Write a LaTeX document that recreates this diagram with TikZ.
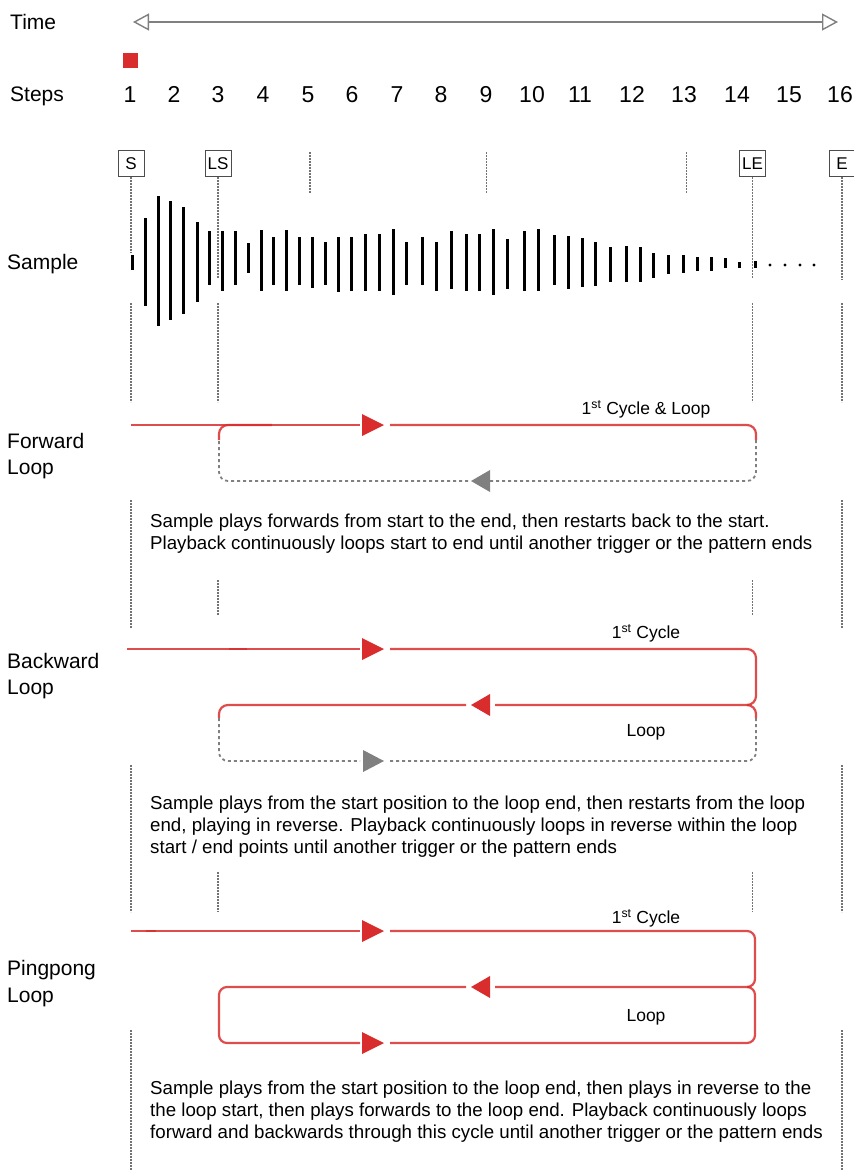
\documentclass[tikz,border=0pt]{standalone}
\usepackage{fontspec}
\setmainfont{Liberation Sans}
\usetikzlibrary{arrows.meta}
\definecolor{playred}{RGB}{217,45,45}
\definecolor{ghostgrey}{gray}{0.5}
\definecolor{markgrey}{gray}{0.45}
\definecolor{boxline}{gray}{0.3}
\tikzset{
  rowlab/.style={font=\fontsize{21}{25}\selectfont,anchor=base west,inner sep=0pt},
  stepnum/.style={font=\fontsize{23}{27}\selectfont,anchor=base,inner sep=0pt},
  markbox/.style={draw=boxline,line width=0.9pt,minimum width=26pt,minimum height=26pt,inner sep=0pt,font=\fontsize{17}{19}\selectfont},
  guide/.style={markgrey,line width=1.1pt,dash pattern=on 1.6pt off 1.4pt},
  wave/.style={line width=3pt,black},
  play/.style={playred,line width=2.2pt,draw opacity=0.85},
  ghost/.style={ghostgrey,line width=1.8pt,dash pattern=on 3pt off 3pt},
  phasecap/.style={font=\fontsize{17.5}{20}\selectfont,inner sep=0pt},
  note/.style={font=\fontsize{18.7}{21.9}\selectfont,anchor=north west,inner sep=0pt,align=left},
}

\begin{document}
\begin{tikzpicture}[x=1pt,y=1pt]
  \useasboundingbox (0,0) rectangle (854,-1171);
  % time line
  \node[rowlab] (lTime) at (10,-29.5) {Time};
  \coordinate (tA) at (133,-22);
  \coordinate (tB) at (838,-22);
  \draw[ghostgrey,line width=1.4pt,{Triangle[open,length=16pt,width=17pt,fill=white]}-{Triangle[open,length=16pt,width=17pt,fill=white]}] (tA) -- (tB);
  \node[fill=playred,minimum size=15pt,inner sep=0pt] (cursor) at (130.5,-60.5) {};
  % steps
  \node[rowlab] (lSteps) at (10,-101.5) {Steps};
  \node[stepnum] (st1) at (130,-102.5) {1};
  \node[stepnum] (st2) at (174,-102.5) {2};
  \node[stepnum] (st3) at (218,-102.5) {3};
  \node[stepnum] (st4) at (263,-102.5) {4};
  \node[stepnum] (st5) at (308,-102.5) {5};
  \node[stepnum] (st6) at (352,-102.5) {6};
  \node[stepnum] (st7) at (397,-102.5) {7};
  \node[stepnum] (st8) at (441,-102.5) {8};
  \node[stepnum] (st9) at (486,-102.5) {9};
  \node[stepnum] (st10) at (532,-102.5) {10};
  \node[stepnum] (st11) at (580,-102.5) {11};
  \node[stepnum] (st12) at (632,-102.5) {12};
  \node[stepnum] (st13) at (684,-102.5) {13};
  \node[stepnum] (st14) at (737,-102.5) {14};
  \node[stepnum] (st15) at (789,-102.5) {15};
  \node[stepnum] (st16) at (840,-102.5) {16};
  % sample markers
  \node[markbox] (mS) at (131,-163.5) {S};
  \node[markbox] (mLS) at (218,-163.5) {LS};
  \node[markbox] (mLE) at (752.5,-163.5) {LE};
  \node[markbox] (mE) at (842,-163.5) {E};
  \draw[guide] (mS.south) -- (131,-252);
  \draw[guide] (mLS.south) -- (218,-278);
  \draw[guide] (mLE.south) -- (752.5,-278);
  \draw[guide] (mE.south) -- (842,-280);
  \draw[guide] (310,-152) -- (310,-193);
  \draw[guide] (486.5,-152) -- (486.5,-193);
  \draw[guide] (686.5,-152) -- (686.5,-193);
  % waveform
  \node[rowlab] (lSample) at (7,-269.5) {Sample};
  \draw[wave] (132,-255) -- (132,-270);
  \draw[wave] (145,-218) -- (145,-306);
  \draw[wave] (158,-196) -- (158,-326);
  \draw[wave] (170,-201) -- (170,-320);
  \draw[wave] (183,-207) -- (183,-314);
  \draw[wave] (197,-222) -- (197,-302);
  \draw[wave] (209,-231) -- (209,-285);
  \draw[wave] (222,-231) -- (222,-291);
  \draw[wave] (235,-231) -- (235,-285);
  \draw[wave] (248,-243) -- (248,-273);
  \draw[wave] (261,-230) -- (261,-291);
  \draw[wave] (273,-237) -- (273,-285);
  \draw[wave] (286,-230) -- (286,-291);
  \draw[wave] (299,-237) -- (299,-285);
  \draw[wave] (312,-237) -- (312,-288);
  \draw[wave] (325,-242) -- (325,-285);
  \draw[wave] (338,-237) -- (338,-292);
  \draw[wave] (351,-237) -- (351,-291);
  \draw[wave] (365,-234) -- (365,-291);
  \draw[wave] (379,-234) -- (379,-291);
  \draw[wave] (393,-229) -- (393,-295);
  \draw[wave] (406,-242) -- (406,-285);
  \draw[wave] (422,-237) -- (422,-285);
  \draw[wave] (436,-242) -- (436,-291);
  \draw[wave] (451,-231) -- (451,-289);
  \draw[wave] (466,-234) -- (466,-291);
  \draw[wave] (479,-234) -- (479,-291);
  \draw[wave] (493,-229) -- (493,-295);
  \draw[wave] (507,-239) -- (507,-289);
  \draw[wave] (524,-231) -- (524,-291);
  \draw[wave] (538,-229) -- (538,-291);
  \draw[wave] (554,-235) -- (554,-285);
  \draw[wave] (568,-236) -- (568,-289);
  \draw[wave] (582,-238) -- (582,-287);
  \draw[wave] (595,-242) -- (595,-286);
  \draw[wave] (610,-247) -- (610,-282);
  \draw[wave] (626,-246) -- (626,-282);
  \draw[wave] (640,-247) -- (640,-282);
  \draw[wave] (653,-253) -- (653,-278);
  \draw[wave] (668,-255) -- (668,-274);
  \draw[wave] (683,-255) -- (683,-273);
  \draw[wave] (697,-257) -- (697,-271);
  \draw[wave] (711,-257) -- (711,-271);
  \draw[wave] (725,-258) -- (725,-268);
  \draw[wave] (739,-262) -- (739,-268);
  \draw[wave] (755,-261) -- (755,-268);
  \fill (770,-265) circle (1.6);
  \fill (785,-265) circle (1.6);
  \fill (800,-265) circle (1.6);
  \fill (814,-265) circle (1.6);
  % guides between the rows
  \draw[guide] (131,-303) -- (131,-402);
  \draw[guide] (218,-303) -- (218,-402);
  \draw[guide] (752.5,-303) -- (752.5,-402);
  \draw[guide] (842,-303) -- (842,-402);
  \draw[guide] (131,-500) -- (131,-628);
  \draw[guide] (842,-500) -- (842,-628);
  \draw[guide] (218,-580) -- (218,-615);
  \draw[guide] (752.5,-580) -- (752.5,-615);
  \draw[guide] (131,-765) -- (131,-912);
  \draw[guide] (842,-765) -- (842,-912);
  \draw[guide] (218,-872) -- (218,-912);
  \draw[guide] (752.5,-872) -- (752.5,-912);
  \draw[guide] (131,-1030) -- (131,-1171);
  \draw[guide] (842,-1030) -- (842,-1171);
  % forward loop
  \node[rowlab] (lFwd) at (7,-448.5) {Forward};
  \node[rowlab] (lFwdB) at (7,-474.5) {Loop};
  \node[phasecap] (cFwd) at (646,-409) {1\textsuperscript{st} Cycle \& Loop};
  \draw[play] (131,-425) -- (360,-425);
  \draw[play] (390,-425) -- (747,-425) arc (90:0:9) -- (756,-440);
  \draw[ghost] (756,-440) -- (756,-472) arc (0:-90:9) -- (490,-481);
  \draw[ghost] (468,-481) -- (228,-481) arc (270:180:9) -- (219,-440);
  \draw[play] (219,-440) -- (219,-434) arc (180:90:9) -- (272,-425);
  \fill[playred] (362,-414) -- (384,-425) -- (362,-436) -- cycle;
  \fill[ghostgrey] (490,-470) -- (471,-481) -- (490,-492) -- cycle;
  \node[note] (nFwd) at (150,-513.5) {Sample plays forwards from start to the end, then restarts back to the start.\\Playback continuously loops start to end until another trigger or the pattern ends};
  % backward loop
  \node[rowlab] (lBwd) at (7,-668.5) {Backward};
  \node[rowlab] (lBwdB) at (7,-694.5) {Loop};
  \node[phasecap] (cBwd) at (646,-633) {1\textsuperscript{st} Cycle};
  \node[phasecap] (cBwdL) at (646,-732) {Loop};
  \draw[play] (127,-649) -- (360,-649);
  \draw[play] (229,-649) -- (247,-649);
  \draw[play] (390,-649) -- (747,-649) arc (90:0:9) -- (756,-696) arc (0:-90:9) -- (495,-705);
  \draw[play] (466,-705) -- (228,-705) arc (90:180:9) -- (219,-718);
  \draw[ghost] (219,-718) -- (219,-752) arc (180:270:9) -- (360,-761);
  \draw[ghost] (390,-761) -- (747,-761) arc (-90:0:9) -- (756,-718);
  \draw[play] (756,-718) -- (756,-714) arc (0:90:9);
  \fill[playred] (362,-638) -- (384,-649) -- (362,-660) -- cycle;
  \fill[playred] (490,-694) -- (471,-705) -- (490,-716) -- cycle;
  \fill[ghostgrey] (363,-750) -- (384,-761) -- (363,-772) -- cycle;
  \node[note] (nBwd) at (150,-795.5) {Sample plays from the start position to the loop end, then restarts from the loop\\end, playing in reverse. Playback continuously loops in reverse within the loop\\start / end points until another trigger or the pattern ends};
  % pingpong loop
  \node[rowlab] (lPp) at (7,-975.5) {Pingpong};
  \node[rowlab] (lPpB) at (7,-1002.5) {Loop};
  \node[phasecap] (cPp) at (646,-918) {1\textsuperscript{st} Cycle};
  \node[phasecap] (cPpL) at (646,-1017) {Loop};
  \draw[play] (131,-931) -- (360,-931);
  \draw[play] (146,-931) -- (156,-931);
  \draw[play] (390,-931) -- (747,-931) arc (90:0:8) -- (755,-979) arc (0:-90:8) -- (495,-987);
  \draw[play] (466,-987) -- (227,-987) arc (90:180:8) -- (219,-1035) arc (180:270:8) -- (360,-1043);
  \draw[play] (390,-1043) -- (747,-1043) arc (-90:0:8) -- (755,-995) arc (0:90:8);
  \fill[playred] (362,-920) -- (384,-931) -- (362,-942) -- cycle;
  \fill[playred] (490,-976) -- (471,-987) -- (490,-998) -- cycle;
  \fill[playred] (362,-1032) -- (384,-1043) -- (362,-1054) -- cycle;
  \node[note] (nPp) at (150,-1080.5) {Sample plays from the start position to the loop end, then plays in reverse to the\\the loop start, then plays forwards to the loop end. Playback continuously loops\\forward and backwards through this cycle until another trigger or the pattern ends};
\end{tikzpicture}
\end{document}
